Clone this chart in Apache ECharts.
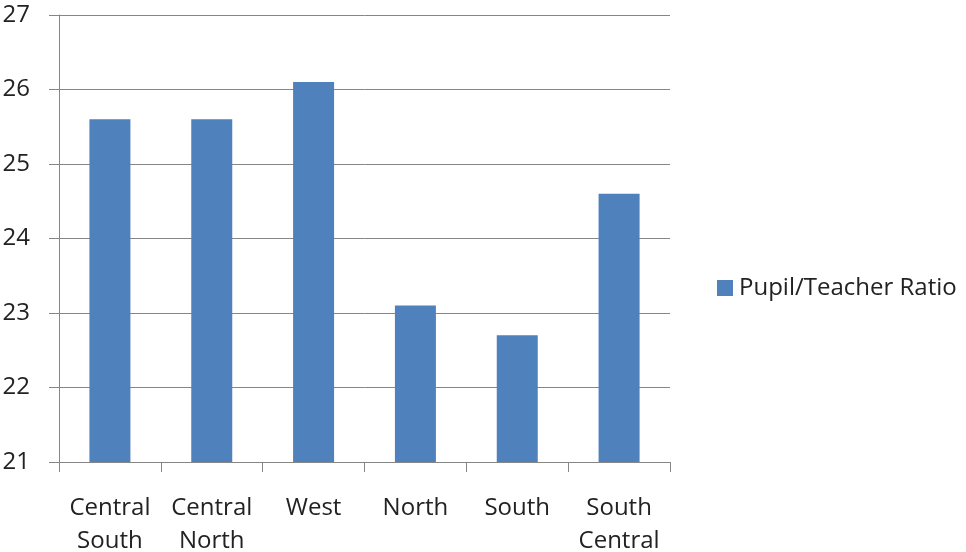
<!DOCTYPE html>
<html>
<head>
<meta charset="utf-8">
<script src="https://cdn.jsdelivr.net/npm/echarts@6/dist/echarts.min.js"></script>
<style>
  html, body { margin: 0; padding: 0; background: #fff; }
  #chart { width: 966px; height: 552px; }
</style>
</head>
<body>
<div id="chart"></div>
<script>
var fontFamily = 'Open Sans, Noto Sans, sans-serif';

var regions = ['Central\nSouth', 'Central\nNorth', 'West', 'North', 'South', 'South\nCentral'];
var ratioValues = [25.6, 25.6, 26.1, 23.1, 22.7, 24.6];
var seriesName = 'Pupil/Teacher Ratio';

var chart = echarts.init(document.getElementById('chart'));

var option = {
    animation: false,
    backgroundColor: '#ffffff',
    textStyle: { fontFamily: fontFamily },
    grid: { left: 59, right: 296, top: 15, bottom: 90, containLabel: false, outerBoundsMode: 'none' },
    legend: {
        data: [seriesName],
        left: 712,
        top: 271,
        itemWidth: 16,
        itemHeight: 16,
        itemGap: 6,
        icon: 'rect',
        selectedMode: false,
        textStyle: { color: '#222', fontSize: 24, fontFamily: fontFamily, padding: [0, 0, 0, 1] }
    },
    xAxis: {
        type: 'category',
        data: regions,
        axisLine: { lineStyle: { color: '#868686', width: 1 } },
        axisTick: { show: true, length: 10, lineStyle: { color: '#868686' } },
        axisLabel: {
            color: '#222',
            fontSize: 24,
            lineHeight: 33,
            margin: 30,
            interval: 0
        }
    },
    yAxis: {
        type: 'value',
        min: 21,
        max: 27,
        interval: 1,
        axisLine: { show: true, lineStyle: { color: '#868686', width: 1 } },
        axisTick: { show: true, length: 10, lineStyle: { color: '#868686' } },
        axisLabel: { color: '#222', fontSize: 24, margin: 29 },
        splitLine: { lineStyle: { color: '#868686', width: 1 } }
    },
    series: [{
        name: seriesName,
        type: 'bar',
        data: ratioValues,
        barWidth: 41,
        itemStyle: { color: '#4F81BD' }
    }]
};

chart.setOption(option);
</script>
</body>
</html>
